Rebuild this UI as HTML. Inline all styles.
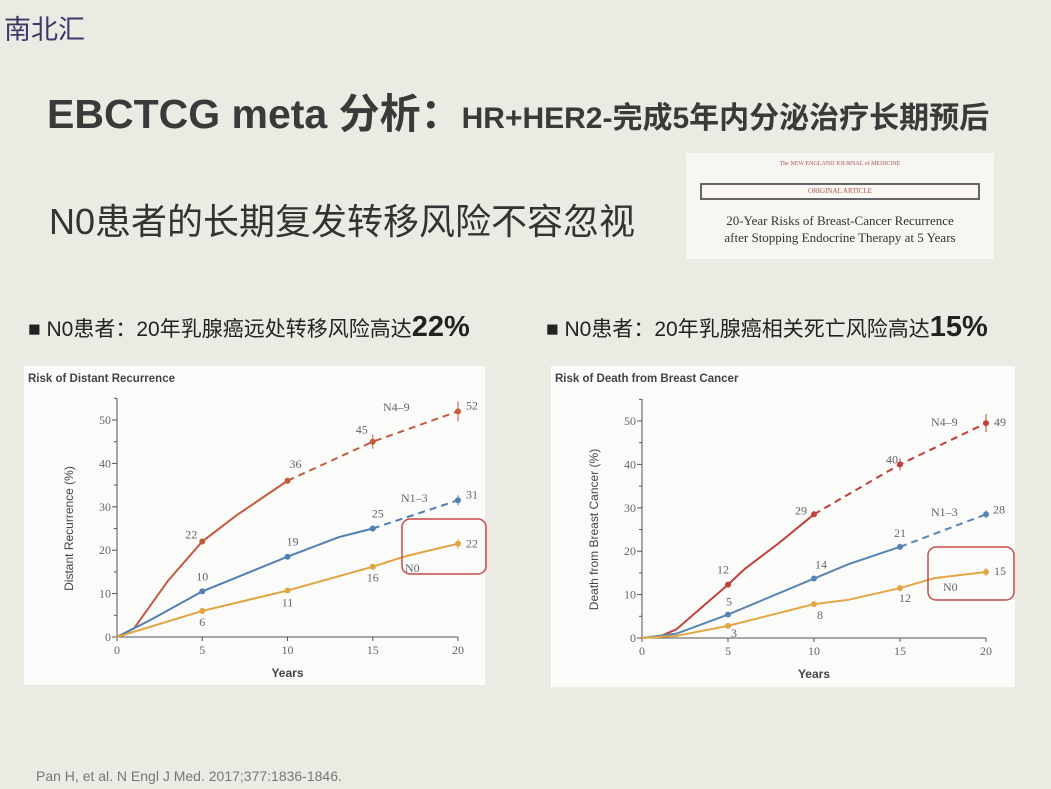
<!DOCTYPE html>
<html><head><meta charset="utf-8">
<style>
html,body{margin:0;padding:0}
body{width:1051px;height:789px;background:#ebeae3;position:relative;overflow:hidden;font-family:"Liberation Sans","Noto Sans CJK SC",sans-serif;color:#333}
.abs{position:absolute;white-space:nowrap}
</style></head><body>
<div class="abs" style="left:4px;top:8px;font-size:27px;color:#3a3a6a;letter-spacing:0px">南北汇</div>
<div class="abs" style="left:47px;top:80px;font-size:41px;font-weight:bold;color:#3a3a3a">EBCTCG meta 分析：<span style="font-size:30px">HR+HER2-完成5年内分泌治疗长期预后</span></div>
<div class="abs" style="left:49px;top:193px;font-size:36px;color:#333">N0患者的长期复发转移风险不容忽视</div>
<div class="abs" style="left:686px;top:153px;width:308px;height:106px;background:#f7f6f3">
 <div style="text-align:center;font-size:6px;color:#b05050;margin-top:8px;font-family:'Liberation Serif',serif">The NEW ENGLAND JOURNAL of MEDICINE</div>
 <div style="margin:16px 14px 0 14px;height:13px;border:2px solid #666;background:#fbf8f4;text-align:center;font-size:7px;color:#b05050;line-height:13px;font-family:'Liberation Serif',serif">ORIGINAL ARTICLE</div>
 <div style="text-align:center;font-family:'Liberation Serif',serif;font-size:13px;color:#333;margin-top:12px;line-height:17px">20-Year Risks of Breast-Cancer Recurrence<br>after Stopping Endocrine Therapy at 5 Years</div>
</div>
<div class="abs" style="left:28px;top:311px;font-size:21px;color:#222">■ N0患者：20年乳腺癌远处转移风险高达<b style="font-size:29px">22%</b></div>
<div class="abs" style="left:546px;top:311px;font-size:21px;color:#222">■ N0患者：20年乳腺癌相关死亡风险高达<b style="font-size:29px">15%</b></div>
<div class="abs" style="left:36px;top:768px;font-size:14px;color:#777">Pan H, et al. N Engl J Med. 2017;377:1836-1846.</div>
<svg id="s" class="abs" style="left:0;top:0" width="1051" height="789"></svg>
<script>
var svg='';
function chart(px,py,pw,ph,title,ylab,x0,x20,y0,y50,series,box,nlab){
 var X=function(t){return x0+(x20-x0)*t/20},Y=function(v){return y0-(y0-y50)*v/50};
 svg+='<rect x="'+px+'" y="'+py+'" width="'+pw+'" height="'+ph+'" fill="#fbfbfa"/>';
 svg+='<text x="'+(px+4)+'" y="'+(py+16)+'" font-size="11.5" font-weight="bold" fill="#444">'+title+'</text>';
 svg+='<line x1="'+x0+'" y1="'+Y(55)+'" x2="'+x0+'" y2="'+y0+'" stroke="#555"/><line x1="'+x0+'" y1="'+y0+'" x2="'+x20+'" y2="'+y0+'" stroke="#555"/>';
 for(var v=0;v<=55;v+=5){svg+='<line x1="'+(x0-(v%10?3:5))+'" y1="'+Y(v)+'" x2="'+x0+'" y2="'+Y(v)+'" stroke="#555"/>';if(v%10==0)svg+='<text x="'+(x0-6)+'" y="'+(Y(v)+4)+'" font-size="12" text-anchor="end" fill="#666" font-family="Liberation Serif">'+v+'</text>';}
 for(var t=0;t<=20;t+=5){svg+='<line x1="'+X(t)+'" y1="'+y0+'" x2="'+X(t)+'" y2="'+(y0+4)+'" stroke="#555"/><text x="'+X(t)+'" y="'+(y0+17)+'" font-size="12" text-anchor="middle" fill="#666" font-family="Liberation Serif">'+t+'</text>';}
 svg+='<text x="'+((x0+x20)/2)+'" y="'+(y0+40)+'" font-size="12" font-weight="bold" text-anchor="middle" fill="#444">Years</text>';
 svg+='<text transform="translate('+(x0-44)+','+((y0+Y(50))/2)+') rotate(-90)" font-size="12" text-anchor="middle" fill="#444">'+ylab+'</text>';
 series.forEach(function(s){
  var p=s.pts.map(function(q){return X(q[0])+','+Y(q[1])}).join(' ');
  svg+='<polyline points="'+p+'" fill="none" stroke="'+s.c+'" stroke-width="2"/>';
  var d=s.dash.map(function(q){return X(q[0])+','+Y(q[1])}).join(' ');
  svg+='<polyline points="'+d+'" fill="none" stroke="'+s.c+'" stroke-width="2" stroke-dasharray="7,5"/>';
  s.m.forEach(function(q){svg+='<circle cx="'+X(q[0])+'" cy="'+Y(q[1])+'" r="3" fill="'+s.c+'"/>';if(q[4])svg+='<line x1="'+X(q[0])+'" y1="'+(Y(q[1])-q[4])+'" x2="'+X(q[0])+'" y2="'+(Y(q[1])+q[4])+'" stroke="'+s.c+'"/>';svg+='<text x="'+(X(q[0])+q[2])+'" y="'+(Y(q[1])+q[3])+'" font-size="12" fill="#666" font-family="Liberation Serif" text-anchor="middle">'+q[5]+'</text>';});
  if(s.lab)svg+='<text x="'+s.lab[0]+'" y="'+s.lab[1]+'" font-size="12" fill="#666" font-family="Liberation Serif">'+s.lab[2]+'</text>';
 });
 svg+='<rect x="'+box[0]+'" y="'+box[1]+'" width="'+box[2]+'" height="'+box[3]+'" rx="8" fill="none" stroke="#c84a4a" stroke-width="1.5"/>';
}
chart(24,366,461,319,'Risk of Distant Recurrence','Distant Recurrence (%)',117,458,637,420,[
 {c:'#c45a3e',pts:[[0,0],[1,2],[3,13],[5,22],[7,28],[10,36]],dash:[[10,36],[15,45],[20,52]],m:[[5,22,-11,-3,0,'22'],[10,36,8,-13,3,'36'],[15,45,-11,-8,7,'45'],[20,52,14,-2,10,'52']],lab:[383,411,'N4–9']},
 {c:'#4f7fb3',pts:[[0,0],[2,4],[5,10.5],[10,18.5],[13,23],[15,25]],dash:[[15,25],[20,31.5]],m:[[5,10.5,0,-11,0,'10'],[10,18.5,5,-11,0,'19'],[15,25,5,-11,3,'25'],[20,31.5,14,-2,5,'31']],lab:[401,502,'N1–3']},
 {c:'#e1a440',pts:[[0,0],[5,6],[10,10.7],[15,16.2],[17,18.7],[20,21.5]],dash:[],m:[[5,6,0,15,0,'6'],[10,10.7,0,16,0,'11'],[15,16.2,0,15,0,'16'],[20,21.5,14,4,5,'22']],lab:[405,572,'N0']}],
 [402,519,84,55]);
chart(551,366,464,321,'Risk of Death from Breast Cancer','Death from Breast Cancer (%)',642,986,638,421,[
 {c:'#c0403a',pts:[[0,0],[1,0.3],[2,2],[5,12.3],[6,16],[8,22],[10,28.5]],dash:[[10,28.5],[15,40],[20,49.5]],m:[[5,12.3,-5,-11,0,'12'],[10,28.5,-13,0,3,'29'],[15,40,-8,-1,6,'40'],[20,49.5,14,3,9,'49']],lab:[931,426,'N4–9']},
 {c:'#5585b5',pts:[[0,0],[2,1],[5,5.4],[10,13.7],[12,17],[15,21]],dash:[[15,21],[20,28.5]],m:[[5,5.4,1,-9,0,'5'],[10,13.7,7,-10,0,'14'],[15,21,0,-10,3,'21'],[20,28.5,13,-1,4,'28']],lab:[931,516,'N1–3']},
 {c:'#e2a744',pts:[[0,0],[2,0.5],[5,2.8],[10,7.8],[12,8.8],[15,11.5],[17,13.8],[20,15.2]],dash:[],m:[[5,2.8,6,11,0,'3'],[10,7.8,6,15,0,'8'],[15,11.5,5,14,0,'12'],[20,15.2,14,3,4,'15']],lab:[943,591,'N0']}],
 [928,547,86,53]);
document.getElementById('s').innerHTML=svg;
</script>
</body></html>
